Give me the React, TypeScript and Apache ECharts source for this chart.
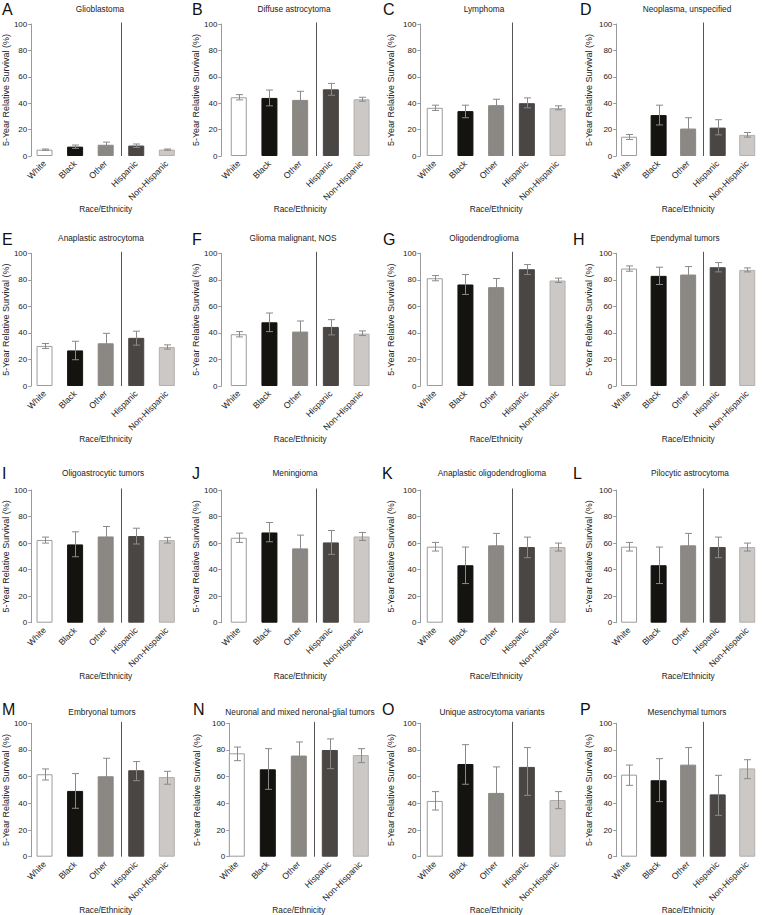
import React, { useEffect, useRef } from 'react';
import * as echarts from 'echarts';

const categories = ['White', 'Black', 'Other', 'Hispanic', 'Non-Hispanic'];
const panelLetters = ['A', 'B', 'C', 'D', 'E', 'F', 'G', 'H', 'I', 'J', 'K', 'L', 'M', 'N', 'O', 'P'];
const panelTitles = [
  'Glioblastoma', 'Diffuse astrocytoma', 'Lymphoma', 'Neoplasma, unspecified',
  'Anaplastic astrocytoma', 'Glioma malignant, NOS', 'Oligodendroglioma', 'Ependymal tumors',
  'Oligoastrocytic tumors', 'Meningioma', 'Anaplastic oligodendroglioma', 'Pilocytic astrocytoma',
  'Embryonal tumors', 'Neuronal and mixed neronal-glial tumors', 'Unique astrocytoma variants', 'Mesenchymal tumors',
];
const yTicks = [0, 20, 40, 60, 80, 100];

// 5-year relative survival (%) with lower / upper confidence limits
const glioblastomaMean = [4.8, 7.1, 8.5, 7.9, 4.9];
const glioblastomaLo = [4.3, 5.8, 6.3, 6.5, 4.4];
const glioblastomaHi = [5.3, 8.3, 10.5, 9.1, 5.3];

const diffuseMean = [44.5, 44, 42.5, 50.5, 43];
const diffuseLo = [42.5, 38, 36, 46, 41.5];
const diffuseHi = [46.5, 50, 49, 55, 44.5];

const lymphomaMean = [36.5, 34, 38.5, 40, 36.3];
const lymphomaLo = [34.5, 29, 34, 36.5, 35];
const lymphomaHi = [38.5, 38.5, 43, 44, 38];

const neoplasmaMean = [14.6, 31, 20.8, 21.5, 16];
const neoplasmaLo = [12.5, 23.5, 13.8, 16, 14.3];
const neoplasmaHi = [16.3, 38.5, 29, 27.5, 17.8];

const anaAstroMean = [30.2, 26.8, 32.2, 36.3, 29.4];
const anaAstroLo = [28.3, 19.8, 24.8, 30.8, 27.8];
const anaAstroHi = [32, 33.7, 39.7, 41.3, 31];

const gliomaNosMean = [39, 48, 41, 44.5, 39.5];
const gliomaNosLo = [37, 41, 33, 38.5, 38];
const gliomaNosHi = [41, 55, 49, 50, 41.5];

const oligoMean = [81.2, 76.5, 74.5, 88, 79.5];
const oligoLo = [79.3, 69, 67, 84, 78];
const oligoHi = [83.2, 84, 81, 91.5, 81.3];

const ependymalMean = [88.5, 83, 84, 89.5, 87.5];
const ependymalLo = [86.5, 76.5, 78, 86, 86];
const ependymalHi = [90.5, 89.5, 90, 93, 89];

const oligoAstroMean = [62.3, 59, 65, 65.3, 62.2];
const oligoAstroLo = [60, 49.7, 56.5, 59.3, 60];
const oligoAstroHi = [64.5, 68.5, 72.5, 71.2, 64.3];

const meningiomaMean = [64, 68, 56, 60.5, 65];
const meningiomaLo = [60.5, 61, 47, 51.5, 62];
const meningiomaHi = [67.5, 75.5, 66, 69.5, 68];

const anaOligoMean = [57.3, 43.3, 58.3, 57, 57];
const anaOligoLo = [54, 29.5, 47.5, 49, 54];
const anaOligoHi = [60.5, 57, 67.3, 64.5, 60];

const pilocyticMean = [57.3, 43.3, 58.3, 57, 57];
const pilocyticLo = [54, 29.5, 47.5, 49, 54];
const pilocyticHi = [60.5, 57, 67.3, 64.5, 60];

const embryonalMean = [61.8, 49.3, 60.3, 64.8, 59.7];
const embryonalLo = [57.5, 36.3, 43.3, 57, 54.3];
const embryonalHi = [65.8, 62.3, 73.8, 71.3, 64];

const neuronalMean = [77.5, 65.5, 75.8, 80, 76.2];
const neuronalLo = [72, 50.5, 60, 66, 70.5];
const neuronalHi = [82.2, 81, 86, 88.3, 81];

const uniqueAstroMean = [41.8, 69.5, 47.8, 67.3, 42.5];
const uniqueAstroLo = [35, 54.3, 24.3, 46, 36];
const uniqueAstroHi = [48.8, 84, 67.3, 81.8, 48.8];

const mesenchymalMean = [61.5, 57.3, 69, 46.7, 66.2];
const mesenchymalLo = [53.5, 41.3, 51.3, 31, 58.5];
const mesenchymalHi = [68.7, 73.5, 81.8, 61, 72.7];

const panelData = [
  [glioblastomaMean, glioblastomaLo, glioblastomaHi],
  [diffuseMean, diffuseLo, diffuseHi],
  [lymphomaMean, lymphomaLo, lymphomaHi],
  [neoplasmaMean, neoplasmaLo, neoplasmaHi],
  [anaAstroMean, anaAstroLo, anaAstroHi],
  [gliomaNosMean, gliomaNosLo, gliomaNosHi],
  [oligoMean, oligoLo, oligoHi],
  [ependymalMean, ependymalLo, ependymalHi],
  [oligoAstroMean, oligoAstroLo, oligoAstroHi],
  [meningiomaMean, meningiomaLo, meningiomaHi],
  [anaOligoMean, anaOligoLo, anaOligoHi],
  [pilocyticMean, pilocyticLo, pilocyticHi],
  [embryonalMean, embryonalLo, embryonalHi],
  [neuronalMean, neuronalLo, neuronalHi],
  [uniqueAstroMean, uniqueAstroLo, uniqueAstroHi],
  [mesenchymalMean, mesenchymalLo, mesenchymalHi],
];

// layout
const FONT = '"Liberation Sans", Arial, Helvetica, sans-serif';
const colLeft = [28.6, 223.4, 419.4, 614.3];
const colAxisOffset = [-2, 2, -1, -2];
const colNameGap = [19, 15.5, 24.5, 23];
const bandWidth = 153.5;
const rowTop = [24, 253.3, 490, 723.3];
const rowBottom = [156, 386, 622.7, 856.7];
const titleX = [
  100, 294, 484, 687,
  101, 293, 484, 685,
  103, 295, 492, 690,
  102, 300, 492, 687,
];
const titleY = [9, 238, 473, 712];
const letterX = [
  2, 192, 383, 580,
  2, 192, 383, 573,
  2, 192, 382, 573,
  2, 193, 382, 580,
];
const letterY = [9, 239, 473, 709];

const barColors = ['#ffffff', '#141310', '#8b8783', '#4a4644', '#cbc8c5'];
const barBorders = ['#9c9c9c', '#141310', '#8b8783', '#4a4644', '#b3b0ad'];
const errColor = '#8a8a8a';

function buildOption() {
  const grids: any[] = [];
  const xAxes: any[] = [];
  const yAxes: any[] = [];
  const series: any[] = [];
  const graphic: any[] = [];

  panelData.forEach((pd, i) => {
    const r = Math.floor(i / 4);
    const c = i % 4;
    let left = colLeft[c];
    let width = bandWidth;
    let offset = colAxisOffset[c];
    let nameGap = colNameGap[c];
    if (i === 13) {
      left = 221.3;
      width = 155;
      offset = -8;
      nameGap = 27.5;
    }
    grids.push({
      left,
      width,
      top: rowTop[r],
      height: rowBottom[r] - rowTop[r],
      containLabel: false,
    });
    xAxes.push({
      type: 'category',
      gridIndex: i,
      data: categories,
      boundaryGap: true,
      axisLine: { show: false },
      axisTick: { show: false },
      axisLabel: {
        rotate: 45,
        margin: 6,
        fontSize: 8.7,
        color: '#222',
        fontFamily: FONT,
        interval: 0,
      },
      name: 'Race/Ethnicity',
      nameLocation: 'middle',
      nameGap: 49,
      nameTextStyle: { fontSize: 8.3, color: '#222', fontFamily: FONT },
    });
    yAxes.push({
      type: 'value',
      gridIndex: i,
      min: yTicks[0],
      max: yTicks[yTicks.length - 1],
      interval: 20,
      offset,
      axisLine: { show: true, lineStyle: { color: '#9a9a9a', width: 1 } },
      axisTick: { show: true, length: 3, lineStyle: { color: '#9a9a9a' } },
      splitLine: { show: false },
      axisLabel: { fontSize: 8, color: '#222', margin: 4, fontFamily: FONT },
      name: '5-Year Relative Survival (%)',
      nameLocation: 'middle',
      nameGap,
      nameRotate: 90,
      nameTextStyle: { fontSize: 9, color: '#222', fontFamily: FONT },
    });
    const [mean, lo, hi] = pd;
    series.push({
      type: 'bar',
      xAxisIndex: i,
      yAxisIndex: i,
      barWidth: 16,
      data: mean.map((v, k) => ({
        value: v,
        itemStyle: { color: barColors[k], borderColor: barBorders[k], borderWidth: 1 },
      })),
      z: 2,
    });
    series.push({
      type: 'custom',
      xAxisIndex: i,
      yAxisIndex: i,
      z: 4,
      data: mean.map((_, k) => [k, lo[k], hi[k]]),
      renderItem: (params: any, api: any) => {
        const k = api.value(0);
        const pLo = api.coord([k, api.value(1)]);
        const pHi = api.coord([k, api.value(2)]);
        const x = Math.round(pLo[0]) + 0.5;
        const w = 3.5;
        const style = { stroke: errColor, lineWidth: 1, fill: null };
        return {
          type: 'group',
          children: [
            { type: 'line', shape: { x1: x, y1: pLo[1], x2: x, y2: pHi[1] }, style },
            { type: 'line', shape: { x1: x - w, y1: pHi[1], x2: x + w, y2: pHi[1] }, style },
            { type: 'line', shape: { x1: x - w, y1: pLo[1], x2: x + w, y2: pLo[1] }, style },
          ],
        };
      },
    });
    series.push({
      type: 'custom',
      xAxisIndex: i,
      yAxisIndex: i,
      z: 3,
      data: [[2, 0, 100]],
      renderItem: (params: any, api: any) => {
        const a = api.coord([2, 0]);
        const b = api.coord([3, 0]);
        const t = api.coord([2, 100]);
        const x = Math.round((a[0] + b[0]) / 2) + 0.5;
        return {
          type: 'line',
          shape: { x1: x, y1: a[1], x2: x, y2: t[1] - 1.5 },
          style: { stroke: '#555555', lineWidth: 1 },
        };
      },
    });
    graphic.push({
      type: 'text',
      x: titleX[i],
      y: titleY[r],
      style: {
        text: panelTitles[i],
        fontSize: 8.3,
        fontFamily: FONT,
        fill: '#222',
        align: 'center',
        textAlign: 'center',
        verticalAlign: 'middle',
        textVerticalAlign: 'middle',
      },
    });
    graphic.push({
      type: 'text',
      x: letterX[i],
      y: letterY[r],
      style: {
        text: panelLetters[i],
        fontSize: 16,
        fontFamily: FONT,
        fill: '#111',
        align: 'left',
        textAlign: 'left',
        verticalAlign: 'middle',
        textVerticalAlign: 'middle',
      },
    });
  });

  return {
    animation: false,
    backgroundColor: '#ffffff',
    textStyle: { fontFamily: FONT },
    grid: grids,
    xAxis: xAxes,
    yAxis: yAxes,
    series,
    graphic,
  };
}

export default function App() {
  const ref = useRef<HTMLDivElement>(null);
  useEffect(() => {
    document.body.style.margin = '0';
    if (!ref.current) return;
    const chart = echarts.init(ref.current, undefined, { renderer: 'svg' });
    chart.setOption(buildOption() as any);
    return () => {
      chart.dispose();
    };
  }, []);
  return <div ref={ref} style={{ width: 762, height: 915, position: 'absolute', left: 0, top: 0 }} />;
}
